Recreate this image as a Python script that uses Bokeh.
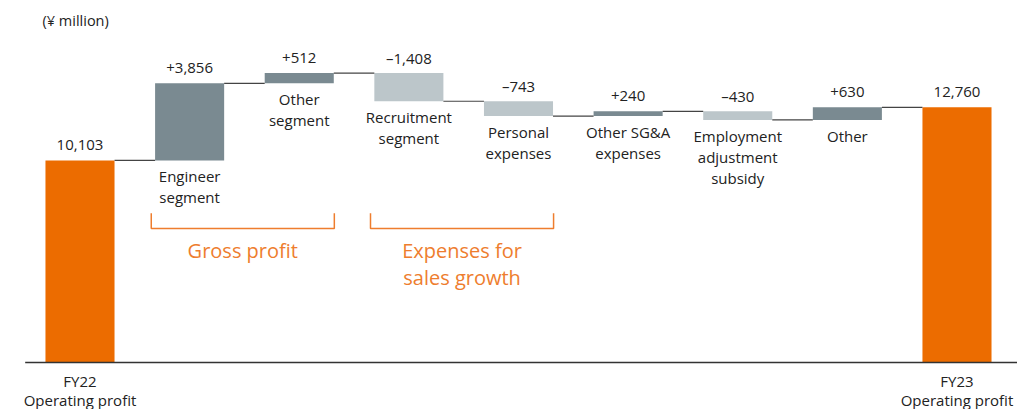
from bokeh.plotting import figure
from bokeh.models import Range1d, ColumnDataSource
from bokeh.core.properties import value
from bokeh.embed import file_html
from bokeh.resources import INLINE

# ---- data ----
categories = ["FY22\nOperating profit", "Engineer\nsegment", "Other\nsegment",
              "Recruitment\nsegment", "Personal\nexpenses", "Other SG&A\nexpenses",
              "Employment\nadjustment\nsubsidy", "Other", "FY23\nOperating profit"]
changes = [10103, 3856, 512, -1408, -743, 240, -430, 630, 12760]
kinds = ["total", "up", "up", "down", "down", "up", "down", "up", "total"]
unit_label = "(¥ million)"
groups = [("Gross profit", 1, 2), ("Expenses for\nsales growth", 3, 4)]

# ---- styles ----
ORANGE = "#EC6C00"
DARK = "#7A8A91"
LIGHT = "#BCC6CA"
BRACKET = "#EE7D2E"
TEXT = "#222222"
FONT = value("Open Sans")
BAR_W = 0.63
X0, X1 = -0.7252, 8.552
Y0, Y1 = -2350, 18100

# ---- computations ----
xs = list(range(len(categories)))
bottoms, tops, colors, labels, ends = [], [], [], [], []
running = 0
for v, k in zip(changes, kinds):
    if k == "total":
        bottoms.append(0); tops.append(v); colors.append(ORANGE)
        labels.append(f"{v:,}")
        running = v
    else:
        b, t = running, running + v
        bottoms.append(b); tops.append(t)
        colors.append(DARK if v > 0 else LIGHT)
        labels.append(("+" if v > 0 else "\u2013") + f"{abs(v):,}")
        running = t
    ends.append(running)
upper = [max(b, t) for b, t in zip(bottoms, tops)]
lower = [min(b, t) for b, t in zip(bottoms, tops)]

p = figure(width=1017, height=409, output_backend="svg", toolbar_location=None,
           x_range=Range1d(X0, X1), y_range=Range1d(Y0, Y1),
           x_axis_type=None, y_axis_type=None, min_border=0)
p.outline_line_color = None
p.xgrid.visible = False
p.ygrid.visible = False

src = ColumnDataSource(dict(x=xs, bottom=bottoms, top=tops, color=colors,
                            label=labels, upper=upper, lower=lower))
p.vbar(x="x", width=BAR_W, bottom="bottom", top="top", fill_color="color",
       line_color=None, source=src)

# baseline
p.segment(x0=[-0.5], y0=[0], x1=[X1 + 0.1], y1=[0], line_color="#333333", line_width=1.5)

# connectors
p.segment(x0=[i + BAR_W / 2 for i in xs[:-1]], y0=ends[:-1],
          x1=[i + 1 - BAR_W / 2 for i in xs[:-1]], y1=ends[:-1],
          line_color="#444444", line_width=1.2)

# value labels
p.text(x="x", y="upper", text="label", source=src, text_align="center",
       text_baseline="middle", y_offset=-15, text_font=FONT,
       text_font_size="15px", text_color=TEXT)

# category labels (line by line)
max_lines = max(len(c.split("\n")) for c in categories)
for k in range(max_lines):
    lx, ly, lt, lo = [], [], [], []
    for i, c in enumerate(categories):
        parts = c.split("\n")
        if k < len(parts):
            lx.append(i)
            ly.append(lower[i])
            lt.append(parts[k])
            lo.append((18 + 19.5 * k) if kinds[i] == "total" else (16 + 21 * k))
    s = ColumnDataSource(dict(x=lx, y=ly, t=lt, o=lo))
    p.text(x="x", y="y", text="t", y_offset="o", source=s, text_align="center",
           text_baseline="middle", text_font=FONT, text_font_size="15px",
           text_color=TEXT)

# brackets
top_y, bot_y = 7465, 6700
for name, a, b in groups:
    x0, x1 = a - 0.35, b + 0.32
    p.line(x=[x0, x0, x1, x1], y=[top_y, bot_y, bot_y, top_y],
           line_color=BRACKET, line_width=1.5)
    for k, part in enumerate(name.split("\n")):
        p.text(x=[(x0 + x1) / 2], y=[bot_y], text=[part], text_align="center",
               text_baseline="middle", y_offset=22 + 27 * k, text_font=FONT,
               text_font_size="20px", text_color=BRACKET)

# unit label
p.text(x=[X0], y=[Y1], text=[unit_label], x_offset=42, y_offset=20,
       text_align="left", text_baseline="middle", text_font=FONT,
       text_font_size="14.5px", text_color=TEXT)

open("out.html", "w").write(file_html(p, INLINE))
